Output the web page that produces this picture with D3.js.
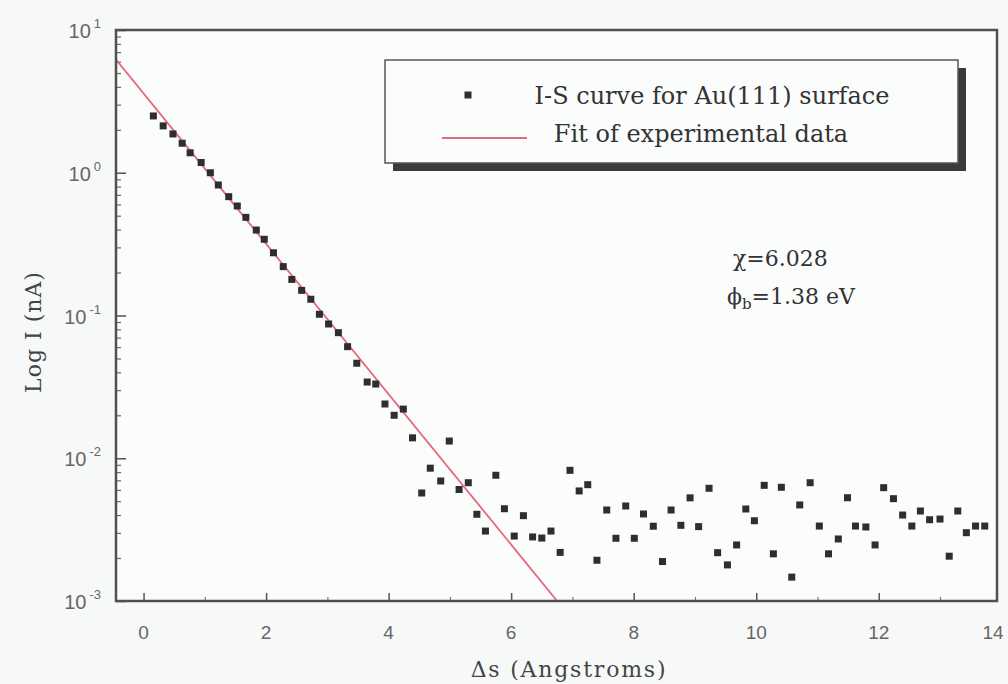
<!DOCTYPE html>
<html>
<head>
<meta charset="utf-8">
<script src="https://cdn.jsdelivr.net/npm/d3@7"></script>
<style>
    body { margin: 0; background: #f7f9f9; }
    svg { display: block; }
</style>
</head>
<body>
<svg id="chart"></svg>
<script>
// Tip-sample separation (Angstroms) and tunnelling current (nA)
const separation = [
    0.16, 0.32, 0.48, 0.63, 0.76, 0.94, 1.09, 1.22, 1.39, 1.53,
    1.67, 1.84, 1.97, 2.12, 2.28, 2.42, 2.58, 2.73, 2.87, 3.02,
    3.18, 3.33, 3.48, 3.65, 3.79, 3.94, 4.09, 4.24, 4.39, 4.54,
    4.68, 4.85, 4.99, 5.15, 5.30, 5.44, 5.58, 5.75, 5.89, 6.05,
    6.20, 6.35, 6.50, 6.65, 6.80, 6.96, 7.11, 7.25, 7.40, 7.56,
    7.71, 7.87, 8.01, 8.16, 8.32, 8.47, 8.61, 8.77, 8.92, 9.06,
    9.23, 9.37, 9.53, 9.68, 9.83, 9.97, 10.13, 10.28, 10.41, 10.58,
    10.71, 10.88, 11.03, 11.18, 11.34, 11.49, 11.62, 11.79, 11.94, 12.08,
    12.24, 12.39, 12.54, 12.68, 12.83, 13.00, 13.15, 13.29, 13.43, 13.58, 13.73
];
const current = [
    2.50, 2.13, 1.87, 1.61, 1.38, 1.18, 1.00, 0.821, 0.680, 0.585,
    0.487, 0.397, 0.342, 0.275, 0.220, 0.179, 0.150, 0.130, 0.102, 0.0872,
    0.0758, 0.0605, 0.0463, 0.0342, 0.0331, 0.0240, 0.0200, 0.0221, 0.0139, 0.00571,
    0.00852, 0.00693, 0.0132, 0.00604, 0.00674, 0.00405, 0.00309, 0.0076, 0.00443, 0.00285,
    0.00396, 0.00281, 0.00276, 0.00309, 0.00219, 0.00823, 0.0059, 0.00653, 0.00193, 0.00434,
    0.00275, 0.00463, 0.00275, 0.00407, 0.00334, 0.00189, 0.00434, 0.00339, 0.00528, 0.00332,
    0.00616, 0.00218, 0.00179, 0.00247, 0.00441, 0.00365, 0.00646, 0.00214, 0.00626, 0.00147,
    0.00471, 0.00674, 0.00335, 0.00214, 0.00272, 0.00529, 0.00335, 0.0033, 0.00247, 0.00622,
    0.00521, 0.0040, 0.00335, 0.00427, 0.00371, 0.00375, 0.00206, 0.00427, 0.00301, 0.00335, 0.00335
];

// Straight-line fit (on the log scale), given by its two end points
const fitSeparation = [-0.45, 6.75];
const fitCurrent = [6.2, 0.001];

// Axis ticks
const xTickValues = [0, 2, 4, 6, 8, 10, 12, 14];
const xMinorTicks = [1, 3, 5, 7, 9, 11, 13];
const yTickExponents = [1, 0, -1, -2, -3];

const legendLabels = ["I-S curve for Au(111) surface", "Fit of experimental data"];

// Chart dimensions
const svgWidth = 1008;
const svgHeight = 684;
const plot = { left: 116, top: 30, right: 997, bottom: 601 };

const svg = d3.select("#chart")
    .attr("width", svgWidth)
    .attr("height", svgHeight);

svg.append("rect")
    .attr("width", svgWidth)
    .attr("height", svgHeight)
    .attr("fill", "#f7f9f9");

// Scales
const x = d3.scaleLinear()
    .domain([-0.45, 13.93])
    .range([plot.left, plot.right]);

const y = d3.scaleLog()
    .domain([1e-3, 10])
    .range([plot.bottom, plot.top]);

// Plot area background
svg.append("rect")
    .attr("x", plot.left)
    .attr("y", plot.top)
    .attr("width", plot.right - plot.left)
    .attr("height", plot.bottom - plot.top)
    .attr("fill", "#fbfcfc");

// Y axis: major and minor ticks pointing inward
const yMinor = [];
yTickExponents.forEach(e => {
    if (e < 1) d3.range(2, 10).forEach(k => yMinor.push(k * Math.pow(10, e)));
});

svg.append("g")
    .attr("transform", `translate(${plot.left},0)`)
    .call(d3.axisLeft(y)
        .tickValues(yTickExponents.map(e => Math.pow(10, e)))
        .tickSize(-10)
        .tickFormat(""))
    .call(g => g.select(".domain").remove())
    .selectAll("line").attr("stroke", "#555").attr("stroke-width", 1.5);

svg.append("g")
    .attr("transform", `translate(${plot.left},0)`)
    .call(d3.axisLeft(y)
        .tickValues(yMinor)
        .tickSize(-5)
        .tickFormat(""))
    .call(g => g.select(".domain").remove())
    .selectAll("line").attr("stroke", "#666").attr("stroke-width", 1.2);

// Y tick labels as 10 with superscript exponent
const yLabels = svg.append("g")
    .selectAll("text")
    .data(yTickExponents)
    .join("text")
    .attr("x", 101)
    .attr("y", d => y(Math.pow(10, d)) + 8)
    .attr("text-anchor", "end")
    .attr("font-family", "Liberation Sans, Arial, sans-serif")
    .attr("fill", "#666");
yLabels.append("tspan")
    .attr("font-size", 20)
    .text("10");
yLabels.append("tspan")
    .attr("font-size", 13)
    .attr("dx", 3)
    .attr("dy", -10)
    .text(d => d);

// X axis: major and minor ticks pointing inward
svg.append("g")
    .attr("transform", `translate(0,${plot.bottom})`)
    .call(d3.axisBottom(x)
        .tickValues(xTickValues.filter(d => x(d) < plot.right))
        .tickSize(-8)
        .tickFormat(""))
    .call(g => g.select(".domain").remove())
    .selectAll("line").attr("stroke", "#555").attr("stroke-width", 1.5);

svg.append("g")
    .attr("transform", `translate(0,${plot.bottom})`)
    .call(d3.axisBottom(x)
        .tickValues(xMinorTicks)
        .tickSize(-4)
        .tickFormat(""))
    .call(g => g.select(".domain").remove())
    .selectAll("line").attr("stroke", "#777").attr("stroke-width", 1.2);

// Last label sits at the window edge, so pull it in a little
svg.append("g")
    .selectAll("text")
    .data(xTickValues)
    .join("text")
    .attr("x", d => Math.min(x(d), 993))
    .attr("y", plot.bottom + 38)
    .attr("text-anchor", "middle")
    .attr("font-family", "Liberation Sans, Arial, sans-serif")
    .attr("font-size", 19)
    .attr("fill", "#666")
    .text(d => d);

// Clip for the fit line
svg.append("clipPath")
    .attr("id", "plot-clip")
    .append("rect")
    .attr("x", plot.left)
    .attr("y", plot.top)
    .attr("width", plot.right - plot.left)
    .attr("height", plot.bottom - plot.top);

// Fit line
const fitData = fitSeparation.map((s, i) => ({ s: s, i: fitCurrent[i] }));
svg.append("path")
    .datum(fitData)
    .attr("clip-path", "url(#plot-clip)")
    .attr("fill", "none")
    .attr("stroke", "#e36a7c")
    .attr("stroke-width", 1.8)
    .attr("d", d3.line().x(d => x(d.s)).y(d => y(d.i)));

// Data points as small squares
const markerSize = 7;
svg.append("g")
    .selectAll("rect")
    .data(separation.map((s, i) => ({ s: s, i: current[i] })))
    .join("rect")
    .attr("x", d => x(d.s) - markerSize / 2)
    .attr("y", d => y(d.i) - markerSize / 2)
    .attr("width", markerSize)
    .attr("height", markerSize)
    .attr("fill", "#2e2e2e");

// Frame
svg.append("rect")
    .attr("x", plot.left)
    .attr("y", plot.top)
    .attr("width", plot.right - plot.left)
    .attr("height", plot.bottom - plot.top)
    .attr("fill", "none")
    .attr("stroke", "#505050")
    .attr("stroke-width", 2.5);

// Axis titles
svg.append("text")
    .attr("x", 569)
    .attr("y", 677)
    .attr("text-anchor", "middle")
    .attr("font-family", "DejaVu Serif, serif")
    .attr("font-size", 22)
    .attr("letter-spacing", 1.8)
    .attr("fill", "#444")
    .text("\u0394s (Angstroms)");

svg.append("text")
    .attr("transform", "translate(41,332) rotate(-90)")
    .attr("text-anchor", "middle")
    .attr("font-family", "DejaVu Serif, serif")
    .attr("font-size", 22)
    .attr("letter-spacing", 1)
    .attr("fill", "#444")
    .text("Log I (nA)");

// Legend with drop shadow
const legend = { x: 385, y: 60, w: 573, h: 103 };
svg.append("rect")
    .attr("x", legend.x + 8)
    .attr("y", legend.y + 8)
    .attr("width", legend.w)
    .attr("height", legend.h)
    .attr("fill", "#3a3a3a");
svg.append("rect")
    .attr("x", legend.x)
    .attr("y", legend.y)
    .attr("width", legend.w)
    .attr("height", legend.h)
    .attr("fill", "#fbfcfc")
    .attr("stroke", "#555")
    .attr("stroke-width", 1.5);

svg.append("rect")
    .attr("x", 468 - markerSize / 2)
    .attr("y", 95 - markerSize / 2)
    .attr("width", markerSize)
    .attr("height", markerSize)
    .attr("fill", "#2e2e2e");
svg.append("line")
    .attr("x1", 442)
    .attr("x2", 527)
    .attr("y1", 138)
    .attr("y2", 138)
    .attr("stroke", "#e36a7c")
    .attr("stroke-width", 1.8);

svg.append("g")
    .selectAll("text")
    .data(legendLabels)
    .join("text")
    .attr("x", (d, i) => i === 0 ? 712 : 701)
    .attr("y", (d, i) => i === 0 ? 104 : 142)
    .attr("text-anchor", "middle")
    .attr("font-family", "DejaVu Serif, serif")
    .attr("font-size", 24)
    .attr("fill", "#333")
    .text(d => d);

// Fit parameters
svg.append("text")
    .attr("x", 733)
    .attr("y", 266)
    .attr("font-family", "DejaVu Serif, serif")
    .attr("font-size", 22)
    .attr("fill", "#333")
    .text("\u03c7=6.028");

const phi = svg.append("text")
    .attr("x", 727)
    .attr("y", 304)
    .attr("font-family", "DejaVu Serif, serif")
    .attr("font-size", 22)
    .attr("fill", "#333");
phi.append("tspan").text("\u03d5");
phi.append("tspan").attr("font-size", 15).attr("dy", 5).text("b");
phi.append("tspan").attr("dy", -5).text("=1.38 eV");
</script>
</body>
</html>
